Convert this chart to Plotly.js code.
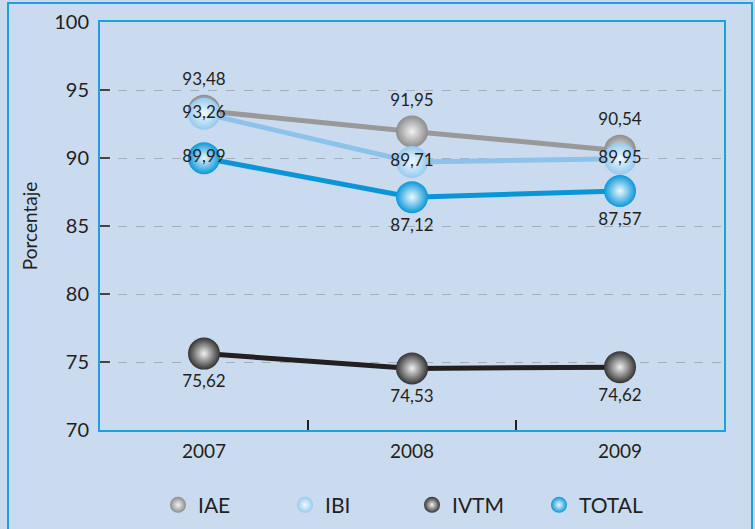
<!DOCTYPE html>
<html>
<head>
<meta charset="utf-8">
<script src="https://cdn.plot.ly/plotly-3.0.1.min.js"></script>
<style>
  html, body { margin: 0; padding: 0; background: #cbdbef; }
  #wrap { position: relative; width: 755px; height: 529px; overflow: hidden; }
  #chart { position: absolute; left: 0; top: 0; width: 755px; height: 529px; }
  #frame { position: absolute; left: 7px; top: 2px; width: 746px; height: 560px;
           border: 2px solid #1ea0dc; pointer-events: none; box-sizing: border-box; }
</style>
</head>
<body>
<div id="wrap">
  <div id="chart"></div>
  <div id="frame"></div>
</div>
<script>
// ---- data ----
var years = ['2007', '2008', '2009'];
var iae   = [93.48, 91.95, 90.54];
var ibi   = [93.26, 89.71, 89.95];
var ivtm  = [75.62, 74.53, 74.62];
var total = [89.99, 87.12, 87.57];
var seriesNames = ['IAE', 'IBI', 'IVTM', 'TOTAL'];
var yTicks = [70, 75, 80, 85, 90, 95, 100];

function fmt(v) { return v.toFixed(2).replace('.', ','); }

var FONT = 'Lato, "Open Sans", sans-serif';
var DARK = '#231f20';

var styles = {
  IAE:   { line: '#999999', edge: '#8c8c8c', center: '#f2f2f2', pos: 'top center' },
  IBI:   { line: '#8dc3ea', edge: '#95caef', center: '#f2faff', pos: 'middle center' },
  IVTM:  { line: '#231f20', edge: '#333333', center: '#f0f0f0', pos: 'bottom center' },
  TOTAL: { line: '#0a96d6', edge: '#0b97d8', center: '#eef9ff',
           pos: ['middle center', 'bottom center', 'bottom center'] }
};
var values = { IAE: iae, IBI: ibi, IVTM: ivtm, TOTAL: total };

function mainTrace(name) {
  var s = styles[name];
  return {
    type: 'scatter', mode: 'lines+markers+text', name: name, showlegend: false,
    x: years, y: values[name],
    text: values[name].map(fmt), textposition: s.pos,
    textfont: { family: FONT, size: 17, color: DARK },
    line: { color: s.line, width: 5 },
    marker: { size: 32, color: s.edge, line: { width: 0 },
              gradient: { type: 'radial', color: s.center } },
    cliponaxis: false, hoverinfo: 'skip'
  };
}
function legendTrace(name) {
  var s = styles[name];
  return {
    type: 'scatter', mode: 'markers', name: name, showlegend: true,
    x: [null], y: [null],
    marker: { size: 16, color: s.edge, line: { width: 0 },
              gradient: { type: 'radial', color: s.center } }
  };
}

var drawOrder = ['IVTM', 'TOTAL', 'IAE', 'IBI'];
var data = drawOrder.map(mainTrace).concat(seriesNames.map(legendTrace));

var layout = {
  width: 755, height: 529,
  paper_bgcolor: '#cbdbef', plot_bgcolor: '#cbdbef',
  margin: { l: 100, r: 31, t: 22, b: 99, autoexpand: false },
  font: { family: FONT, color: DARK },
  showlegend: true,
  legend: { orientation: 'h', x: 0.5, xanchor: 'center', xref: 'paper',
            y: 0.045, yanchor: 'middle', yref: 'container',
            entrywidth: 82, entrywidthmode: 'pixels',
            font: { family: FONT, size: 21, color: DARK }, bgcolor: 'rgba(0,0,0,0)',
            itemclick: false, traceorder: 'normal' },
  xaxis: {
    type: 'category', range: [-0.5, 2.5], fixedrange: true,
    showline: true, linecolor: '#1ea0dc', linewidth: 2, mirror: true,
    showgrid: false, zeroline: false,
    ticks: 'inside', tickson: 'boundaries', ticklen: 10, tickwidth: 1.2, tickcolor: DARK,
    ticklabelstandoff: 3,
    tickfont: { family: FONT, size: 19, color: DARK }
  },
  yaxis: {
    range: [70, 100], tickvals: yTicks, ticktext: yTicks.map(String), fixedrange: true,
    showline: true, linecolor: '#1ea0dc', linewidth: 2, mirror: true,
    showgrid: true, gridcolor: '#a9aeb6', gridwidth: 1, griddash: 'dash', zeroline: false,
    ticks: 'inside', ticklen: 10, tickwidth: 2, tickcolor: '#444444',
    ticklabelstandoff: 5,
    tickfont: { family: FONT, size: 20, color: DARK },
    title: { text: 'Porcentaje', font: { family: FONT, size: 19, color: DARK }, standoff: 12 }
  }
};

Plotly.newPlot('chart', data, layout, { displayModeBar: false, staticPlot: true });
</script>
</body>
</html>
